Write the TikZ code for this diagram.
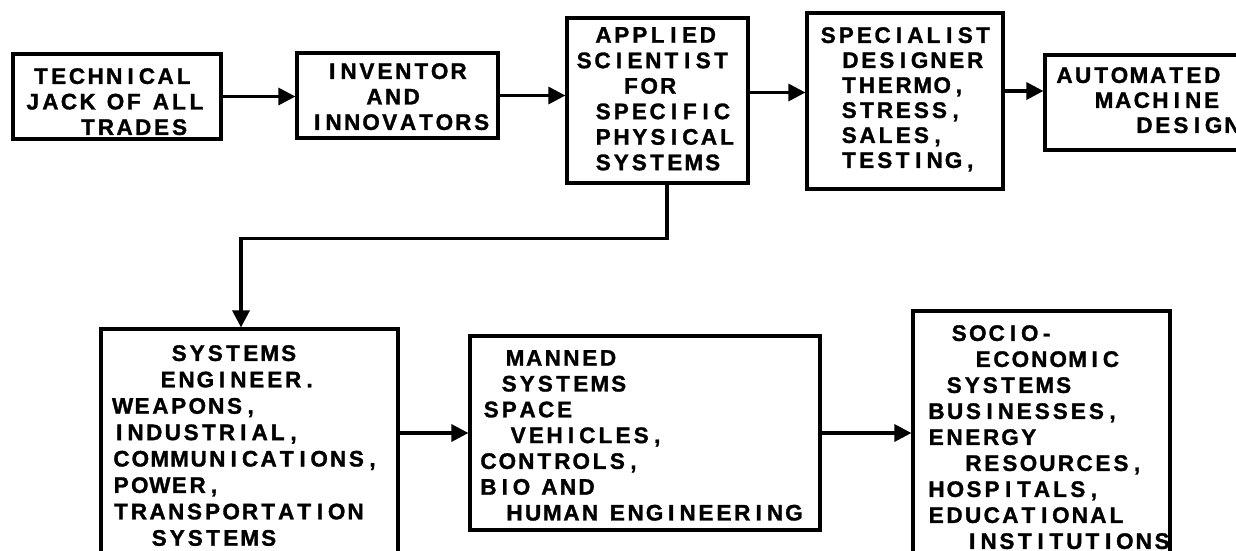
\documentclass[tikz,border=0pt]{standalone}
\usepackage{fontspec}
\setmainfont{Liberation Sans}[BoldFeatures={FakeBold=1.3}]
\usetikzlibrary{arrows.meta}
\makeatletter
\newlength\tw@w
\newcommand\twcell[1]{%
  \ifx#1~\hspace*{9pt}\else
  \settowidth\tw@w{#1}%
  \makebox[\dimexpr 11.3pt+0.45\tw@w\relax][c]{#1}\fi}
\newcommand\tw[1]{\@tfor\tw@c:=#1\do{\expandafter\twcell\expandafter{\tw@c}}}
\makeatother
\tikzset{
  box/.style={draw, line width=3.2pt, inner sep=0pt},
  txt/.style={anchor=north west, inner sep=0pt, align=left,
    font=\bfseries\fontsize{22.5}{25.5}\selectfont},
  arr/.style={line width=3.2pt, -{Triangle[length=17pt,width=17pt]}}
}
\begin{document}
\begin{tikzpicture}[x=1pt,y=-1pt]
\fill[white] (0,0) rectangle (1236,550);
\useasboundingbox (0,0) rectangle (1236,550);
% boxes
\node[box, minimum width=208pt, minimum height=85pt] (b1) at (117,96.5) {};
\node[box, minimum width=201pt, minimum height=85pt] (b2) at (397.5,95.5) {};
\node[box, minimum width=181pt, minimum height=165pt] (b3) at (657.5,100.5) {};
\node[box, minimum width=196pt, minimum height=176pt] (b4) at (905,101) {};
\node[box, minimum width=205pt, minimum height=95pt] (b5) at (1147.5,102.5) {};
\node[box, minimum width=297pt, minimum height=241pt] (b6) at (249.5,449.5) {};
\node[box, minimum width=350pt, minimum height=194pt] (b7) at (645,433) {};
\node[box, minimum width=257pt, minimum height=259pt] (b8) at (1041.5,440.5) {};
% texts
\node[txt] (t1) at (24,68) {\hspace*{8pt}\tw{TECHNICAL}\\\tw{JACK~OF~ALL}\\\hspace*{55pt}\tw{TRADES}};
\node[txt] (t2) at (310,63) {\hspace*{15pt}\tw{INVENTOR}\\\hspace*{55pt}\tw{AND}\\\tw{INNOVATORS}};
\node[txt] (t3) at (575,27) {\hspace*{19pt}\tw{APPLIED}\\\tw{SCIENTIST}\\\hspace*{47pt}\tw{FOR}\\\hspace*{19pt}\tw{SPECIFIC}\\\hspace*{19pt}\tw{PHYSICAL}\\\hspace*{19pt}\tw{SYSTEMS}};
\node[txt, font=\bfseries\fontsize{22.5}{25}\selectfont] (t4) at (819,27) {\tw{SPECIALIST}\\\hspace*{22pt}\tw{DESIGNER}\\\hspace*{21pt}\tw{THERMO,}\\\hspace*{21pt}\tw{STRESS,}\\\hspace*{21pt}\tw{SALES,}\\\hspace*{21pt}\tw{TESTING,}};
\node[txt, font=\bfseries\fontsize{22.5}{25}\selectfont] (t5) at (1055,67) {\tw{AUTOMATED}\\\hspace*{39pt}\tw{MACHINE}\\\hspace*{80pt}\tw{DESIGN}};
\node[txt, font=\bfseries\fontsize{22.5}{26.4}\selectfont] (t6) at (112,345) {\hspace*{58pt}\tw{SYSTEMS}\\\hspace*{47pt}\tw{ENGINEER.}\\\tw{WEAPONS,}\\\tw{INDUSTRIAL,}\\\tw{COMMUNICATIONS,}\\\tw{POWER,}\\\tw{TRANSPORTATION}\\\hspace*{38pt}\tw{SYSTEMS}};
\node[txt, font=\bfseries\fontsize{22.5}{25.8}\selectfont] (t7) at (479,350) {\hspace*{26pt}\tw{MANNED}\\\hspace*{21pt}\tw{SYSTEMS}\\\hspace*{3pt}\tw{SPACE}\\\hspace*{30pt}\tw{VEHICLES,}\\\tw{CONTROLS,}\\\tw{BIO~AND}\\\hspace*{26pt}\tw{HUMAN~ENGINEERING}};
\node[txt, font=\bfseries\fontsize{22.5}{26}\selectfont] (t8) at (927,325) {\hspace*{23pt}\tw{SOCIO-}\\\hspace*{47pt}\tw{ECONOMIC}\\\hspace*{18pt}\tw{SYSTEMS}\\\tw{BUSINESSES,}\\\tw{ENERGY}\\\hspace*{37pt}\tw{RESOURCES,}\\\tw{HOSPITALS,}\\\tw{EDUCATIONAL}\\\hspace*{38pt}\tw{INSTITUTIONS}};
% connectors
\draw[arr] (b1) -- (b1 -| b2.west);
\draw[arr] (b2) -- (b2 -| b3.west);
\draw[arr] ([yshift=8pt]b3.east) -- ([yshift=8pt]b3.east -| b4.west);
\draw[arr] ([yshift=10pt]b4.east) -- ([yshift=10pt]b4.east -| b5.west);
\draw[arr] ([xshift=9.5pt]b3.south) -- ++(0,54) -| ([xshift=-8.5pt]b6.north);
\draw[arr] (b7.west -| b6.east) -- (b7.west);
\draw[arr] (b7) -- (b7 -| b8.west);
\end{tikzpicture}
\end{document}
